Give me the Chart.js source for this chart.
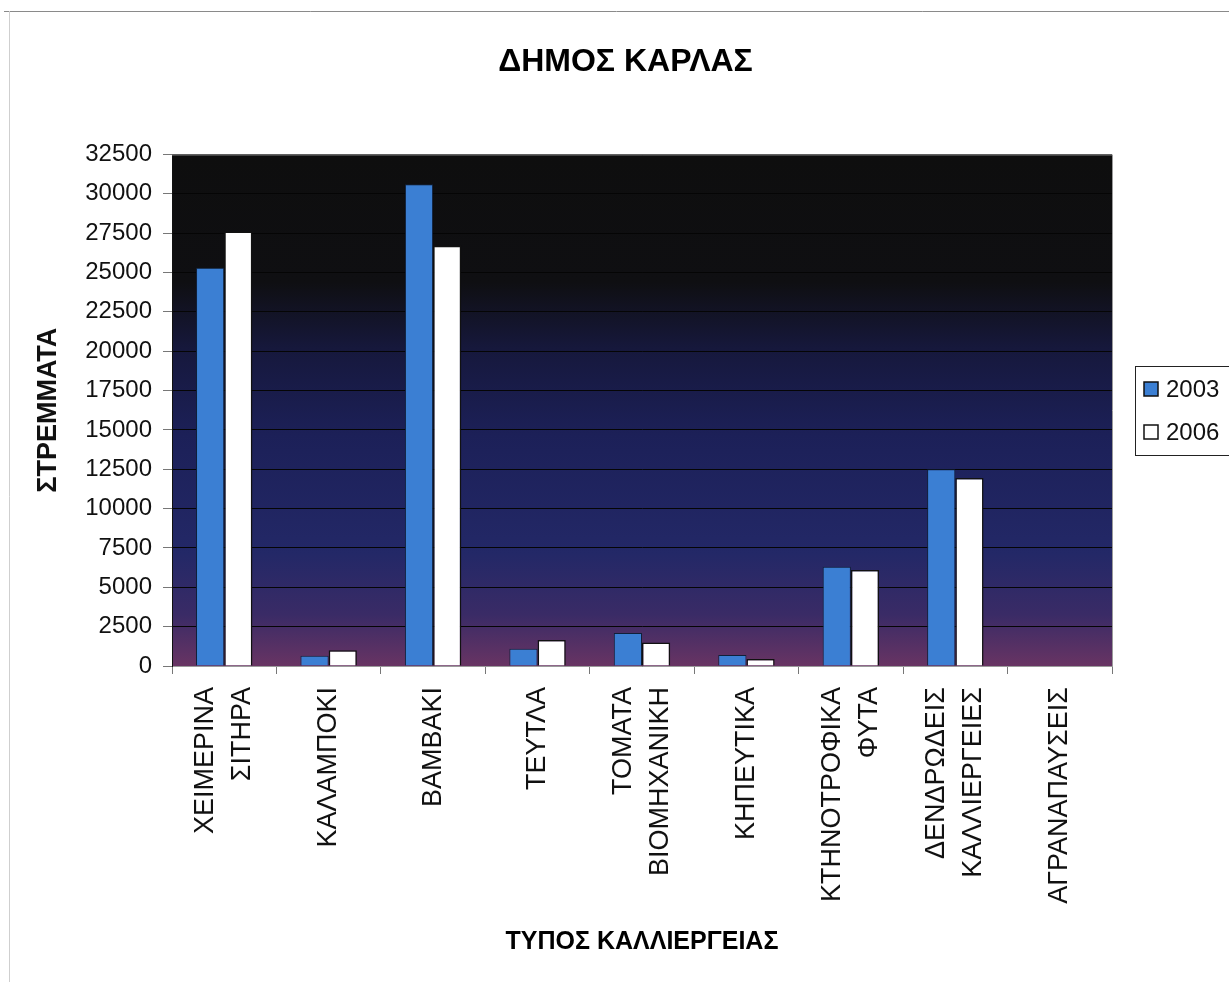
<!DOCTYPE html>
<html>
<head>
<meta charset="utf-8">
<script src="https://cdn.jsdelivr.net/npm/chart.js@4/dist/chart.umd.min.js"></script>
<style>
  html, body { margin: 0; padding: 0; background: #ffffff; }
  #wrap { width: 1229px; height: 982px; position: relative; }
</style>
</head>
<body>
<div id="wrap"><canvas id="c" width="1229" height="982"></canvas></div>
<script>
const chartTitle = 'ΔΗΜΟΣ ΚΑΡΛΑΣ';
const xAxisTitle = 'ΤΥΠΟΣ ΚΑΛΛΙΕΡΓΕΙΑΣ';
const yAxisTitle = 'ΣΤΡΕΜΜΑΤΑ';
const categories = [
  ['ΧΕΙΜΕΡΙΝΑ', 'ΣΙΤΗΡΑ'],
  ['ΚΑΛΑΜΠΟΚΙ'],
  ['ΒΑΜΒΑΚΙ'],
  ['ΤΕΥΤΛΑ'],
  ['ΤΟΜΑΤΑ', 'ΒΙΟΜΗΧΑΝΙΚΗ'],
  ['ΚΗΠΕΥΤΙΚΑ'],
  ['ΚΤΗΝΟΤΡΟΦΙΚΑ', 'ΦΥΤΑ'],
  ['ΔΕΝΔΡΩΔΕΙΣ', 'ΚΑΛΛΙΕΡΓΕΙΕΣ'],
  ['ΑΓΡΑΝΑΠΑΥΣΕΙΣ']
];
const seriesNames = ['2003', '2006'];
const values2003 = [25300, 650, 30600, 1100, 2100, 700, 6300, 12500, 0];
const values2006 = [27600, 1000, 26700, 1650, 1500, 450, 6100, 11950, 0];
const yMin = 0, yMax = 32500, yStep = 2500;

const FONT = "'Liberation Sans', Arial, sans-serif";
const CAT_FONT_SIZE = 27;
const CAT_LINE_H = 37;

const bgPlugin = {
  id: 'bgPlugin',
  beforeDraw(chart) {
    const {ctx, chartArea: a} = chart;
    ctx.save();
    ctx.fillStyle = '#ffffff';
    ctx.fillRect(0, 0, chart.width, chart.height);
    ctx.strokeStyle = '#8a8a8a';
    ctx.lineWidth = 1;
    ctx.beginPath();
    ctx.moveTo(4, 11.5); ctx.lineTo(chart.width, 11.5);
    ctx.stroke();
    ctx.strokeStyle = '#cfcfcf';
    ctx.beginPath();
    ctx.moveTo(9.5, 11); ctx.lineTo(9.5, chart.height);
    ctx.stroke();
    const g = ctx.createLinearGradient(0, a.top, 0, a.bottom);
    g.addColorStop(0.00, '#0e0e0e');
    g.addColorStop(0.25, '#0f0f12');
    g.addColorStop(0.38, '#16183c');
    g.addColorStop(0.55, '#1c2058');
    g.addColorStop(0.78, '#232867');
    g.addColorStop(0.90, '#3a2b66');
    g.addColorStop(1.00, '#683463');
    ctx.fillStyle = g;
    ctx.fillRect(a.left, a.top, a.right - a.left, a.bottom - a.top);
    ctx.restore();
  },
  afterDraw(chart) {
    const {ctx, chartArea: a} = chart;
    const xs = chart.scales.x;
    ctx.save();
    ctx.strokeStyle = '#9a9a9a';
    ctx.lineWidth = 1;
    ctx.beginPath();
    ctx.moveTo(a.left, a.top + 0.5); ctx.lineTo(a.right + 0.5, a.top + 0.5); ctx.lineTo(a.right + 0.5, a.bottom);
    ctx.stroke();
    ctx.font = CAT_FONT_SIZE + 'px ' + FONT;
    ctx.fillStyle = '#111';
    ctx.textAlign = 'right';
    ctx.textBaseline = 'middle';
    chart.data.labels.forEach((lab, i) => {
      const lines = Array.isArray(lab) ? lab : [lab];
      const px = xs.getPixelForTick(i);
      lines.forEach((ln, j) => {
        const x = px + (j - (lines.length - 1) / 2) * CAT_LINE_H;
        ctx.save();
        ctx.translate(x, a.bottom + 21);
        ctx.rotate(-Math.PI / 2);
        ctx.fillText(ln, 0, 0);
        ctx.restore();
      });
    });
    const lx = 1135, ly = 366, lh = 89;
    ctx.strokeStyle = '#222';
    ctx.lineWidth = 1;
    ctx.strokeRect(lx + 0.5, ly + 0.5, chart.width + 10 - lx, lh);
    ctx.font = '24px ' + FONT;
    ctx.textBaseline = 'middle';
    ctx.textAlign = 'left';
    chart.data.datasets.forEach((ds, i) => {
      const cy = 389 + i * 43;
      ctx.fillStyle = ds.backgroundColor;
      ctx.fillRect(1144, cy - 7, 14, 14);
      ctx.strokeStyle = '#111';
      ctx.lineWidth = 1.5;
      ctx.strokeRect(1144, cy - 7, 14, 14);
      ctx.fillStyle = '#111';
      ctx.fillText(ds.label, 1166, cy + 1);
    });
    ctx.restore();
  }
};

new Chart(document.getElementById('c'), {
  type: 'bar',
  data: {
    labels: categories,
    datasets: [
      { label: seriesNames[0], data: values2003, backgroundColor: '#3b7fd3', borderColor: '#10203a', borderWidth: 1 },
      { label: seriesNames[1], data: values2006, backgroundColor: '#ffffff', borderColor: '#111111', borderWidth: 1.5 }
    ]
  },
  options: {
    responsive: false,
    animation: false,
    devicePixelRatio: 1,
    layout: { padding: { left: 22, right: 0, top: 0, bottom: 0 } },
    datasets: { bar: { categoryPercentage: 0.54, barPercentage: 1.0 } },
    plugins: {
      legend: { display: false },
      tooltip: { enabled: false },
      title: {
        display: true,
        text: chartTitle,
        color: '#000',
        font: { family: FONT, size: 32, weight: 'bold', lineHeight: 1.2 },
        padding: { top: 43, bottom: 73 }
      }
    },
    scales: {
      x: {
        grid: { display: true, drawOnChartArea: false, drawTicks: true, tickLength: 8, color: '#777', offset: true },
        border: { display: true, color: '#9a9a9a', width: 1 },
        ticks: { display: false },
        title: {
          display: true, text: xAxisTitle, color: '#000',
          font: { family: FONT, size: 25, weight: 'bold', lineHeight: 1.2 },
          padding: { top: 0, bottom: 25 }
        },
        afterFit(scale) { scale.height = 316; }
      },
      y: {
        min: yMin, max: yMax,
        grid: { color: '#050505', lineWidth: 1, tickLength: 9, tickColor: '#777' },
        border: { display: true, color: '#111', width: 1 },
        ticks: {
          stepSize: yStep, color: '#111', padding: 11,
          font: { family: FONT, size: 24 },
          callback: (v) => String(v)
        },
        title: {
          display: true, text: yAxisTitle, color: '#111',
          font: { family: FONT, size: 27, weight: 'bold', lineHeight: 1.2 },
          padding: { top: 10, bottom: 0 }
        },
        afterFit(scale) { scale.width = 150; }
      },
      legendSpace: {
        type: 'linear', position: 'right', display: true,
        grid: { display: false }, border: { display: false },
        ticks: { display: false },
        afterFit(scale) { scale.width = 117; }
      }
    }
  },
  plugins: [bgPlugin]
});
</script>
</body>
</html>
